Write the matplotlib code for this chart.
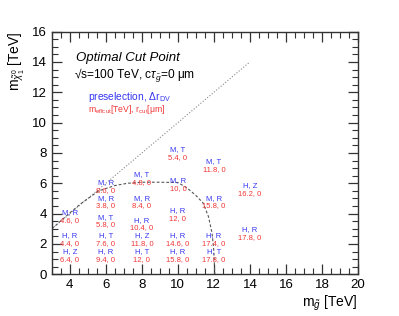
import matplotlib
matplotlib.use('Agg')
import matplotlib.pyplot as plt
from matplotlib.ticker import MultipleLocator

plt.rcParams['font.family'] = ['Liberation Sans', 'DejaVu Sans']
plt.rcParams['mathtext.fontset'] = 'custom'
plt.rcParams['mathtext.rm'] = 'Liberation Sans'
plt.rcParams['mathtext.it'] = 'Liberation Sans:italic'
plt.rcParams['mathtext.bf'] = 'Liberation Sans:bold'

# gluino mass, neutralino position of each cut point label
m_gluino = [4, 4, 4,
            6, 6, 6, 6, 6,
            8, 8, 8, 8, 8,
            10, 10, 10, 10, 10,
            12, 12, 12, 12,
            14, 14]
m_chi = [3.55, 2.05, 1.0,
         5.5, 4.5, 3.25, 2.05, 1.0,
         6.07, 4.5, 3.05, 2.05, 1.0,
         7.7, 5.67, 3.67, 2.05, 1.0,
         6.9, 4.5, 2.05, 1.0,
         5.3, 2.45]
# preselection, delta r_DV
presel = ['M, R', 'H, R', 'H, Z',
          'M, R', 'M, R', 'M, T', 'H, T', 'H, R',
          'M, T', 'M, R', 'H, R', 'H, Z', 'H, T',
          'M, T', 'M, R', 'H, R', 'H, R', 'H, R',
          'M, T', 'M, R', 'H, R', 'H, T',
          'H, Z', 'H, R']
# m_effcut [TeV], r_cut [um]
cuts = ['4.6, 0', '4.4, 0', '6.4, 0',
        '8.6, 0', '3.8, 0', '5.8, 0', '7.6, 0', '9.4, 0',
        '4.8, 0', '8.4, 0', '10.4, 0', '11.8, 0', '12, 0',
        '5.4, 0', '10, 0', '12, 0', '14.6, 0', '15.8, 0',
        '11.8, 0', '15.8, 0', '17.4, 0', '17.8, 0',
        '16.2, 0', '17.8, 0']

# kinematic limit line and dashed contour
diag_x = [3, 14]
diag_y = [3, 14]
curve_x = [3.0, 4.0, 4.6, 5.6, 6.5, 7.2, 8.0, 9.0, 10.0, 10.5, 11.0, 11.4, 11.7, 11.9, 12.0, 12.05]
curve_y = [3.0, 4.05, 4.65, 5.5, 5.85, 6.0, 6.07, 6.07, 6.05, 5.7, 5.2, 4.7, 3.8, 2.7, 1.5, 0.0]

fig = plt.figure(figsize=(3.99, 3.16), dpi=100)
ax = fig.add_axes([0.130, 0.132, 0.767, 0.768])

ax.plot(diag_x, diag_y, color='#888888', linestyle=':', linewidth=0.8)
ax.plot(curve_x, curve_y, color='#555555', linestyle=(0, (2.5, 1.8)), linewidth=0.8)

for x, y, p, c in zip(m_gluino, m_chi, presel, cuts):
    ax.text(x, y + 0.52, p, color='#3535f0', fontsize=5.5, ha='center', va='center')
    ax.text(x, y, c, color='#f03535', fontsize=5.5, ha='center', va='center')

ax.set_xlim(3, 20)
ax.set_ylim(0, 16)
ax.xaxis.set_major_locator(MultipleLocator(2))
ax.xaxis.set_minor_locator(MultipleLocator(0.5))
ax.yaxis.set_major_locator(MultipleLocator(2))
ax.yaxis.set_minor_locator(MultipleLocator(0.5))
ax.tick_params(which='both', direction='in', top=True, right=True, labelsize=9.5, pad=3.5, color='#333333')
ax.tick_params(which='major', length=7.5, width=0.9)
ax.tick_params(which='minor', length=4, width=0.8)
for s in ax.spines.values():
    s.set_linewidth(1.0)
    s.set_color('#333333')

ax.set_xlabel(r'm$_{\tilde{g}}$ [TeV]', fontsize=10, loc='right', labelpad=2)
ax.set_ylabel(r'm$_{\tilde{\chi}^0_1}$ [TeV]', fontsize=10, loc='top', labelpad=4)

ax.text(0.078, 0.892, 'Optimal Cut Point', transform=ax.transAxes, fontsize=9.5, style='italic', va='center')
ax.text(0.072, 0.817, '\u221as=100 TeV, c$\\tau_{\\tilde{g}}$=0 \u03bcm', transform=ax.transAxes, fontsize=8.6, va='center')
ax.text(0.118, 0.731, 'preselection, \u0394r$_{\\mathrm{DV}}$', transform=ax.transAxes, fontsize=7.4, color='#3535f0', va='center')
ax.text(0.118, 0.681, 'm$_{\\mathrm{effcut}}$[TeV], r$_{\\mathrm{cut}}$[\u03bcm]', transform=ax.transAxes, fontsize=6.2, color='#f03535', va='center')

fig.savefig('out.png', dpi=100)
